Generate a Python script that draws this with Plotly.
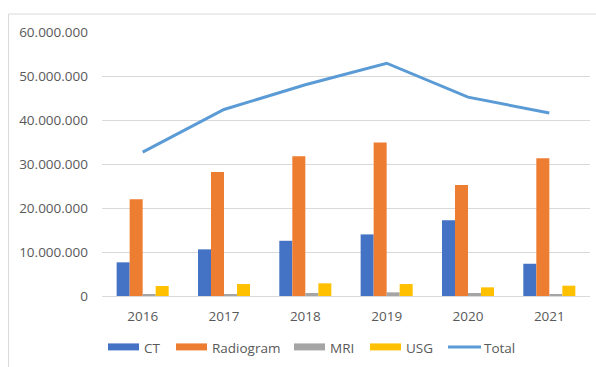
import plotly.graph_objects as go

years = ["2016", "2017", "2018", "2019", "2020", "2021"]
ct = [7_650_000, 10_600_000, 12_550_000, 14_000_000, 17_240_000, 7_330_000]
radiogram = [22_000_000, 28_200_000, 31_760_000, 34_860_000, 25_250_000, 31_300_000]
mri = [390_000, 450_000, 680_000, 830_000, 680_000, 400_000]
usg = [2_270_000, 2_720_000, 2_880_000, 2_720_000, 1_970_000, 2_340_000]
total = [32_700_000, 42_400_000, 48_000_000, 52_900_000, 45_200_000, 41_600_000]

y_ticks = [0, 10_000_000, 20_000_000, 30_000_000, 40_000_000, 50_000_000, 60_000_000]

series = [
    ("CT", ct, "#4472C4"),
    ("Radiogram", radiogram, "#ED7D31"),
    ("MRI", mri, "#A5A5A5"),
    ("USG", usg, "#FFC000"),
]
total_color = "#5B9BD5"
font_family = "Open Sans"
text_color = "#595959"

fig = go.Figure()
for name, vals, color in series:
    fig.add_trace(go.Bar(x=years, y=vals, name=name, marker=dict(color=color, line=dict(width=0)),
                         showlegend=False))
fig.add_trace(go.Scatter(x=years, y=total, name="Total", mode="lines",
                         line=dict(color=total_color, width=3), showlegend=False))

# Legend drawn below the plot: wide swatches followed by labels
legend_items = [(n, c, "bar") for n, _, c in series] + [("Total", total_color, "line")]
swatch_x = [108, 176, 294, 370, 448]
plot_l, plot_r, plot_t, plot_b = 102, 590, 31.5, 296
pw, ph = plot_r - plot_l, plot_b - plot_t


def px(x):
    return (x - plot_l) / pw


def py(y):
    return (plot_b - y) / ph


shapes = []
annotations = []
for (name, color, kind), sx in zip(legend_items, swatch_x):
    if kind == "bar":
        shapes.append(dict(type="rect", xref="paper", yref="paper",
                           x0=px(sx), x1=px(sx + 31), y0=py(350.5), y1=py(343.5),
                           fillcolor=color, line=dict(width=0)))
    else:
        shapes.append(dict(type="line", xref="paper", yref="paper",
                           x0=px(sx), x1=px(sx + 33), y0=py(347), y1=py(347),
                           line=dict(color=color, width=3)))
    annotations.append(dict(xref="paper", yref="paper", x=px(sx + 34), y=py(348.5),
                            text=name, showarrow=False, xanchor="left", yanchor="middle",
                            font=dict(family=font_family, size=13.5, color=text_color)))

# Light chart frame
shapes.append(dict(type="rect", xref="paper", yref="paper",
                   x0=px(8.5), x1=px(620), y0=py(390), y1=py(13.5),
                   line=dict(color="#D9D9D9", width=1), fillcolor="rgba(0,0,0,0)", layer="below"))

fig.update_layout(
    width=596, height=367,
    margin=dict(l=plot_l, r=596 - plot_r, t=plot_t, b=367 - plot_b),
    paper_bgcolor="white", plot_bgcolor="white",
    barmode="group", bargap=0.36, bargroupgap=0,
    separators=",.",
    font=dict(family=font_family, size=13.5, color=text_color),
    shapes=shapes, annotations=annotations,
    xaxis=dict(showgrid=False, showline=False, zeroline=False, ticks="",
               ticklabelstandoff=10, tickfont=dict(size=13.5, color=text_color)),
    yaxis=dict(range=[0, 60_000_000], tickvals=y_ticks, tickformat=",d",
               showgrid=True, gridcolor="#D9D9D9", gridwidth=1,
               zeroline=True, zerolinecolor="#D9D9D9", zerolinewidth=1,
               showline=False, ticks="", ticklabelstandoff=13,
               tickfont=dict(size=13.5, color=text_color)),
    showlegend=False,
)

fig.write_html("out.html")
